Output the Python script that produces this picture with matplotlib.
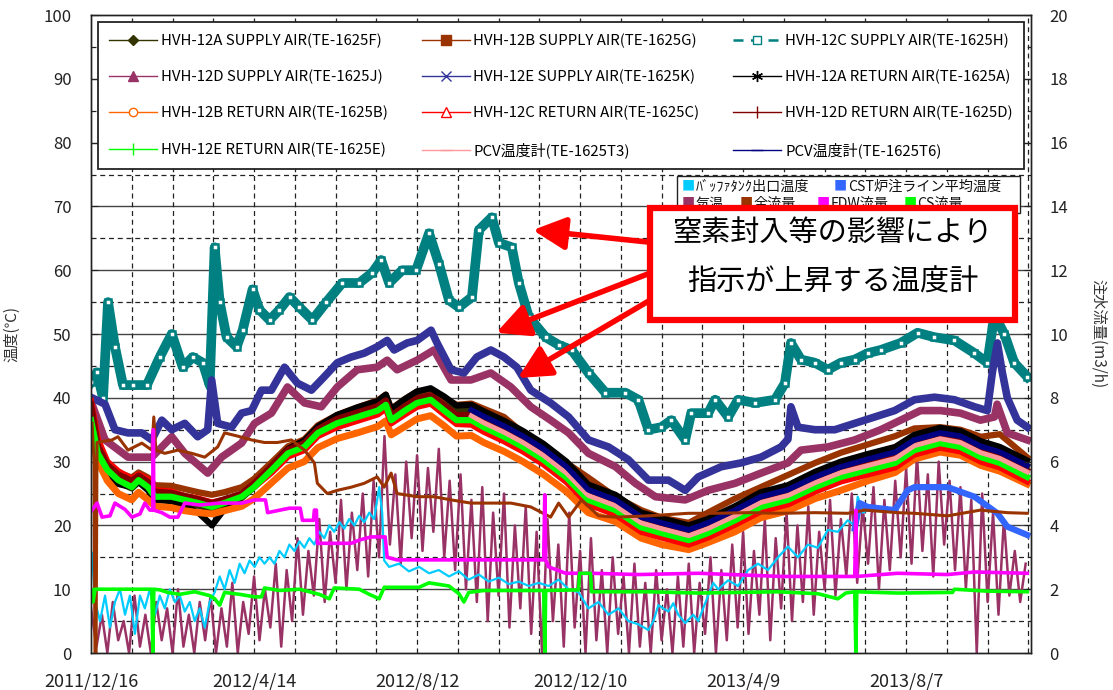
import datetime as dt
import numpy as np
import matplotlib
matplotlib.use("Agg")
import matplotlib.pyplot as plt
from matplotlib.lines import Line2D
from matplotlib.patches import Rectangle

plt.rcParams['font.family'] = ['Noto Sans CJK JP', 'DejaVu Sans']

start_date = dt.date(2011, 12, 16)
x_max = 692

# ---- main temperature band (days from 2011/12/16) ----
band_days = [0, 5, 12, 20, 30, 35, 42, 47, 59, 69, 79, 89, 98, 111, 120, 133, 145, 157, 167, 181,
             196, 211, 217, 221, 231, 240, 250, 260, 269, 280, 289, 304, 318, 333, 350, 366, 386, 405, 420, 440,
             454, 474, 493, 513, 533, 552, 572, 592, 606, 625, 640, 655, 669, 689]
sup_12a = [38.5, 31.0, 28.2, 26.8, 25.8, 26.8, 25.8, 24.3, 24.2, 23.6, 23.1, 22.5, 23.2, 24.3, 26.0, 28.9, 31.6, 32.8, 35.0, 36.7,
           37.8, 38.8, 39.8, 37.5, 39.0, 40.3, 40.8, 39.4, 38.0, 38.0, 37.0, 35.5, 33.9, 31.9, 29.1, 25.5, 23.9, 21.2, 20.3, 19.2,
           20.3, 22.3, 24.4, 25.5, 27.5, 29.1, 30.3, 31.4, 33.3, 34.4, 33.9, 32.3, 31.4, 29.3]
sup_12b = [38.0, 32.0, 29.5, 28.3, 27.5, 28.3, 27.5, 26.3, 26.2, 25.7, 25.2, 24.8, 25.2, 26.0, 27.3, 29.9, 32.4, 33.5, 35.7, 37.3,
           38.5, 39.6, 40.5, 38.3, 39.8, 41.0, 41.3, 40.0, 38.9, 39.1, 38.3, 37.0, 34.5, 32.5, 29.8, 27.5, 24.5, 22.4, 21.2, 20.4,
           22.0, 24.2, 26.0, 27.9, 29.8, 31.4, 32.7, 34.0, 35.2, 35.4, 35.0, 33.9, 34.3, 30.7]
ret_12a = [38.0, 30.5, 27.5, 26.5, 26.0, 26.8, 25.5, 24.0, 23.8, 23.0, 22.0, 20.0, 22.5, 24.5, 26.3, 29.3, 32.0, 33.3, 35.5, 37.3,
           38.5, 39.5, 40.5, 38.2, 39.8, 41.0, 41.5, 40.2, 38.8, 38.9, 37.9, 36.4, 34.8, 32.8, 30.0, 26.4, 24.8, 22.0, 21.1, 20.0,
           21.0, 23.0, 25.2, 26.3, 28.4, 30.0, 31.2, 32.3, 34.2, 35.3, 34.8, 33.2, 32.3, 30.2]
ret_12b = [37.0, 30.0, 27.0, 25.0, 24.0, 25.2, 24.0, 23.0, 22.8, 22.3, 22.0, 21.8, 22.3, 23.0, 24.2, 26.7, 29.0, 30.0, 32.2, 33.6,
           34.5, 35.5, 36.4, 34.2, 35.5, 36.7, 37.2, 35.6, 34.0, 34.1, 33.0, 31.6, 30.0, 28.0, 25.3, 22.0, 20.6, 18.0, 17.0, 16.2,
           17.3, 19.0, 21.2, 22.3, 24.2, 25.5, 27.0, 28.3, 30.4, 31.5, 31.0, 29.4, 28.5, 26.5]
ret_12c = [39.5, 33.5, 30.0, 28.5, 27.3, 28.0, 27.2, 25.5, 25.3, 24.6, 24.2, 23.6, 24.0, 24.9, 26.0, 28.3, 30.8, 31.8, 34.0, 35.4,
           36.4, 37.4, 38.3, 36.0, 37.4, 38.6, 39.1, 37.4, 35.9, 35.8, 34.7, 33.2, 31.6, 29.6, 26.8, 23.3, 21.7, 19.0, 18.1, 17.0,
           18.1, 20.1, 22.2, 23.3, 25.3, 26.9, 28.0, 29.1, 31.1, 32.2, 31.6, 30.0, 29.1, 26.9]
ret_12d = [39.0, 32.5, 29.5, 28.0, 27.0, 27.8, 26.8, 25.3, 25.1, 24.6, 24.1, 23.5, 24.1, 25.0, 26.6, 29.3, 31.9, 32.9, 35.1, 36.7,
           37.7, 38.7, 39.6, 37.2, 38.7, 39.9, 40.4, 38.8, 37.3, 37.3, 36.3, 34.8, 33.2, 31.2, 28.4, 24.9, 23.3, 20.6, 19.7, 18.6,
           19.7, 21.7, 23.8, 24.9, 26.9, 28.5, 29.6, 30.7, 32.7, 33.8, 33.2, 31.6, 30.7, 28.6]
ret_12e = [36.5, 31.3, 28.7, 27.1, 26.0, 27.1, 26.0, 24.5, 24.5, 24.0, 23.5, 22.9, 23.5, 24.5, 26.0, 28.7, 31.3, 32.3, 34.5, 36.0,
           37.0, 38.0, 38.9, 36.5, 38.0, 39.2, 39.7, 38.0, 36.5, 36.5, 35.4, 33.9, 32.3, 30.3, 27.5, 24.0, 22.4, 19.7, 18.8, 17.7,
           18.8, 20.8, 22.9, 24.0, 26.0, 27.6, 28.7, 29.8, 31.8, 32.9, 32.3, 30.7, 29.8, 27.6]

pcv_days = [280, 289, 304, 318, 333, 350, 366, 386, 405, 420, 440, 454, 474, 493, 513, 533, 552, 572, 592, 606,
            625, 640, 655, 669, 689]
pcv_t3 = [37.2, 36.1, 34.6, 33.0, 31.0, 28.2, 24.7, 23.1, 20.4, 19.5, 18.4, 19.5, 21.5, 23.6, 24.7, 26.7, 28.3, 29.4, 30.5, 32.5,
          33.6, 33.0, 31.4, 30.5, 28.4]
pcv_t6 = [38.1, 37.1, 35.6, 34.0, 32.0, 29.2, 25.6, 24.0, 21.3, 20.4, 19.3, 20.4, 22.4, 24.5, 25.6, 27.6, 29.2, 30.4, 31.5, 33.4,
          34.5, 34.0, 32.4, 31.5, 29.4]

# HVH-12C supply (teal squares)
teal_days = [0, 4.4, 8.8, 12.5, 17.6, 23.5, 30.8, 41.1, 50.6, 59.4, 67.5, 74.9, 82.2, 87.3, 91, 94.7, 99.8, 107.2, 111.6, 118.9,
             124, 131.4, 138.7, 146.1, 153.4, 162.9, 173.2, 184.9, 197.4, 207, 213.6, 219.4, 229, 239.3, 248.8, 256.1, 263.5,
             270.8, 280.4, 285.5, 295, 300.2, 309.7, 314.9, 322.2, 334.7, 344.2, 353.8, 366.2, 378.7, 393.4, 402.9, 410.3,
             419.8, 427.2, 437.4, 441.8, 454.3, 459.4, 469, 476.3, 488.8, 503.5, 510.8, 515.2, 522.6, 532.8, 542.4, 551.9,
             562.2, 571.7, 581.3, 596, 608.4, 620.9, 635.6, 650.3, 659.8, 665, 672.3, 679.6, 689.2]
sup_12c = [42.5, 44, 40, 55, 48, 42, 42, 42, 46.4, 50, 44.8, 46.4, 45.5, 42, 63.6, 55, 49.5, 48, 50.6, 57,
           53.8, 52.2, 53.8, 55.8, 54.2, 52.2, 55, 58, 58, 59.6, 61.6, 58, 60, 60, 65.8, 61, 55.3, 54.2, 55.8, 66.3,
           68.3, 64.3, 63.6, 58, 52.7, 49.5, 48.3, 47.5, 43.9, 40.8, 40.8, 39.7, 35, 35.4, 36.5, 33.4, 37.6, 37.6, 39.7, 37,
           39.7, 39.2, 39.7, 42.3, 48.6, 46, 45.5, 44.4, 45.5, 46, 47, 47.5, 48.6, 50.2, 49.5, 49, 47, 45.5, 53, 50,
           45.5, 43.3]

# HVH-12E supply (blue)
e_days = [0.7, 10.3, 17.6, 27.2, 37.4, 44.8, 52.1, 59.4, 69, 78.5, 85.9, 88.8, 93.2, 103.5, 110.8, 118.2, 125.5, 132.8,
          142.4, 151.9, 162.2, 171.7, 181.3, 191.6, 201.1, 210.6, 218, 223.1, 232.7, 240, 250.3, 254.7, 265, 274.5, 284,
          294.3, 303.9, 313.4, 323.7, 338.3, 351.6, 366.2, 380.9, 395.6, 410.3, 425, 437.4, 447, 463.9, 478.5, 493.2,
          507.9, 513, 515.2, 520.4, 532.8, 547.5, 562.2, 576.9, 591.6, 606.2, 620.9, 635.6, 650.3, 659.8, 663.5, 667.2,
          670.8, 674.5, 681.8, 689.2]
sup_12e = [40, 39, 35, 34.5, 34.5, 33.4, 36.5, 35, 36, 33.9, 35, 42.8, 36, 35.4, 37.6, 38, 41.2, 41.2, 44.8, 42.3,
           41.2, 43.3, 45.5, 46.4, 47, 48, 49, 47.5, 48.6, 49, 50.6, 48.6, 44.4, 43.9, 46.4, 47.5, 46.4, 44.8, 41.2, 39.2,
           37, 33.4, 32.3, 30.3, 27.1, 27.1, 25.5, 27.6, 29.2, 29.8, 30.7, 32.3, 33.5, 38.6, 35.4, 35, 35, 36, 37, 38,
           39.7, 40.1, 39.7, 38.6, 38, 44, 48.6, 44, 40, 36.5, 35.4]

# HVH-12D supply (purple)
d_days = [0.7, 10.3, 27.2, 44.8, 59.4, 69, 85.9, 96.1, 110.8, 120.4, 132.8, 144.6, 157.1, 169.5, 181.3, 196, 210.6, 218,
          225.3, 240, 252.5, 265, 279.6, 294.3, 309, 323.7, 338.3, 351.6, 366.2, 386.1, 400.7, 415.4, 437.4, 454.3, 474.1,
          493.2, 513, 522.6, 542.4, 562.2, 581.3, 596, 610.6, 625.3, 640, 654.7, 665, 667, 674.5, 689.2]
sup_12d = [39, 33.4, 30.7, 30.7, 33.9, 31.3, 28.2, 30.7, 32.9, 36, 37.6, 41.7, 39.2, 38.6, 41.7, 44.4, 44.8, 45.9, 44.4, 45.9,
           47.5, 42.8, 42.8, 43.9, 41.7, 38.6, 36.5, 34.5, 31.3, 29.2, 26.6, 24.5, 24, 25.5, 26.6, 28.2, 29.8, 31.8, 32.3, 33.4,
           35, 36.5, 38, 38, 37.6, 36.5, 37, 39, 34.5, 33.4]

# buffer tank outlet temperature (cyan)
buf_days = [0.7, 3, 6.6, 10.3, 13.9, 17.6, 21.3, 25, 28.6, 32.3, 36, 39.6, 43.3, 47, 50.6, 54.3, 58, 61.7, 65.3, 69,
            72.7, 76.3, 80, 83.7, 87.3, 91, 94.7, 98.3, 102, 105.7, 109.4, 113, 116.7, 120.4, 124, 127.7, 131.4, 135, 138.7,
            142.4, 146, 149.7, 153.4, 157, 160.7, 164.4, 168, 171.7, 175.4, 179, 182.8, 186.4, 190, 193.8, 197.4, 201, 204.8,
            208.4, 212.1, 214.3, 215.8, 219.4, 226.8, 234, 241.5, 248.8, 256, 263.5, 270.8, 278, 285.5, 292.8, 300.2, 307.5,
            314.9, 322.2, 329.5, 336.9, 344.2, 351.6, 358.9, 366.2, 373.6, 380.9, 388.3, 395.6, 402.9, 410.3, 414, 417.6,
            425, 428.6, 432.3, 437.4, 443.3, 447, 450.6, 454.3, 458, 461.7, 469, 476.3, 483.7, 491, 498.3, 505.7, 513,
            520.4, 527.7, 535, 542.4, 549.7, 557, 562.2, 564.4, 568.1, 576.9]
buf_temp = [15.7, 8, 5, 9, 4, 8, 10, 6, 9, 3, 9, 7, 10, 6, 9, 7, 10, 8, 9, 6.5,
            8, 5, 7, 4, 8, 9.5, 12, 10, 13, 11, 14, 12.5, 14.5, 13.5, 15, 14, 15, 14, 16, 15,
            17, 16, 17.5, 16.5, 18, 17, 19, 18, 20, 19, 20.5, 19.5, 21, 20, 21.5, 20.5, 22, 21, 26, 22,
            14.5, 13.5, 14, 12.8, 13.5, 12.5, 13, 12, 12.8, 11.5, 12.3, 11.2, 11.8, 10.8, 11.2, 10.5, 11, 10.5, 11.5, 10,
            9.5, 7, 8, 6, 7, 5, 4.5, 3.6, 5, 7.5, 6.5, 7.8, 6, 4.7, 6, 5, 7, 9, 11, 10,
            11.4, 10.5, 13, 14, 13, 15, 16.7, 15, 17, 16.5, 19.3, 19, 20.8, 20, 24.5, 22, 23]

# CST injection line average temperature
cst_days = [562.2, 565.8, 571.7, 591.6, 601.1, 606.2, 630.5, 650.3, 667.2, 674.5, 689.2]
cst_temp = [19.5, 23.5, 22.9, 22.4, 25.5, 26, 26, 24.5, 21.9, 19.8, 18.5]

# air temperature, one reading every 4 days
air_days = np.arange(0, 689, 4)
air_temp = [7, 1, 6, 0, 8, 2, 5, 0, 9, 1, 6, 0, 8, 2, 7, 0, 10, 1, 6, 0,
            8, 2, 9, 0, 7, 1, 11, 0, 8, 3, 12, 2, 10, 4, 14, 1, 13, 5, 18, 6,
            16, 9, 21, 8, 19, 11, 24, 10, 22, 13, 25, 12, 27, 15, 34, 17, 28, 14, 30, 18,
            31, 16, 29, 19, 32, 15, 27, 13, 28, 10, 24, 8, 26, 5, 22, 9, 25, 4, 20, 7,
            23, 3, 19, 0, 21, 5, 17, 1, 22, 4, 16, 0, 18, 2, 13, 0, 15, 3, 12, 0,
            14, 1, 11, 0, 13, 2, 10, 0, 12, 1, 14, 0, 11, 3, 15, 0, 13, 2, 17, 4,
            19, 3, 16, 6, 21, 2, 18, 7, 22, 5, 20, 8, 23, 6, 19, 10, 24, 9, 21, 12,
            25, 11, 23, 14, 26, 10, 24, 13, 27, 15, 29, 14, 31, 16, 28, 12, 30, 17, 27, 13,
            26, 10, 24, 0, 25, 8, 22, 6, 21, 9, 16, 8, 14]

# flows (m3/h, right axis)
fdw_days = [0.7, 4.4, 8.1, 13.9, 17.6, 25, 30.1, 36, 39.6, 43.3, 45.5, 45.9, 46.2, 52.1, 58, 63.9, 69, 80, 94.7, 110.8,
            120.4, 128.4, 130, 146, 154, 155.6, 163.7, 164.4, 165.9, 166.6, 191.6, 197.4, 206.2, 216.5, 218, 225.3, 265,
            289.2, 333.2, 334, 334.7, 336.9, 349.4, 368.4, 403, 447, 508, 562.2, 563, 563.7, 593.8, 630.5, 650.3, 689.2]
fdw_flow = [4.48, 4.70, 4.26, 4.30, 4.70, 4.50, 4.26, 4.36, 4.70, 4.48, 4.48, 7.00, 4.48, 4.40, 4.26, 4.26, 4.70, 4.64,
            4.70, 4.70, 4.80, 4.80, 4.40, 4.54, 4.54, 4.16, 4.16, 4.48, 4.48, 3.44, 3.44, 3.54, 3.64, 3.64, 3.00, 2.92,
            2.92, 2.92, 2.92, 4.96, 2.92, 2.70, 2.50, 2.50, 2.46, 2.50, 2.40, 2.40, 4.48, 2.40, 2.50, 2.46, 2.54, 2.50]

cs_days = [0.7, 1.5, 3, 43.3, 44.8, 45.5, 46.2, 50.6, 56.5, 65.3, 76.3, 87.3, 91, 94.7, 98.3, 109.4, 120.4, 125.5,
           127.7, 138.7, 153.4, 168, 175.4, 179, 197.4, 204.8, 212.1, 215.8, 241.5, 248.8, 263.5, 270.8, 274.5, 278,
           289.2, 322.2, 333.2, 334, 334.7, 358.9, 359.6, 367.7, 368.4, 410.3, 447, 505.7, 535, 549.7, 555.6, 562.2,
           563, 563.7, 593.8, 634.1, 635.6, 659.8, 689.2]
cs_flow = [1.98, 1.60, 2.00, 2.00, 2.00, 0.00, 2.00, 1.98, 1.90, 1.84, 1.92, 1.80, 1.70, 1.50, 1.90, 1.84, 1.76, 1.76,
           2.04, 1.96, 2.00, 1.84, 1.70, 2.04, 2.00, 1.84, 1.70, 2.06, 2.06, 2.20, 2.10, 1.86, 1.60, 1.90, 1.96, 1.96,
           1.96, 0.00, 1.96, 1.98, 2.50, 2.50, 1.92, 1.92, 1.88, 1.92, 1.86, 1.70, 1.88, 1.92, 0.00, 1.92, 1.88, 1.90,
           2.00, 1.94, 1.92]

total_days = [0.7, 2.2, 2.9, 3.7, 4.4, 15.4, 19.8, 27.2, 37.4, 44.8, 46.2, 47.7, 54.3, 63.9, 74.1, 83.7, 93.2, 98.3,
              107.9, 118.2, 127.7, 137.2, 147.5, 157.1, 164.4, 166.6, 173.9, 181.3, 191.6, 201.1, 210.6, 215.8, 220.9,
              225.3, 240, 252.5, 265, 279.6, 294.3, 309, 323.7, 338.3, 344.2, 351.6, 361.1, 373.6, 386.1, 410.3, 439.6,
              459.4, 483.7, 507.9, 532.8, 557, 569.5, 593.8, 606.2, 630.5, 654.7, 674.5, 689.2]
total_flow = [7.2, 6.0, 0.0, 0.0, 6.6, 6.68, 6.78, 6.36, 6.58, 6.36, 7.4, 6.36, 6.26, 6.36, 6.26, 6.14, 6.46, 6.9, 6.8,
              6.68, 6.6, 6.6, 6.68, 6.36, 5.96, 5.32, 5.0, 5.1, 5.2, 5.32, 5.52, 5.2, 5.64, 5.0, 4.9, 4.9, 4.8, 4.7, 4.7,
              4.7, 4.58, 4.26, 4.7, 4.26, 4.8, 4.3, 4.26, 4.3, 4.38, 4.38, 4.4, 4.38, 4.4, 4.38, 4.48, 4.4, 4.38, 4.3,
              4.48, 4.4, 4.38]

c_olive, c_brown, c_teal = '#333300', '#993300', '#008080'
c_plum, c_blue, c_black = '#993366', '#333399', '#000000'
c_orange, c_red, c_dred = '#FF6600', '#FF0000', '#800000'
c_green, c_salmon, c_navy = '#00FF00', '#FF9999', '#000080'

fig = plt.figure(figsize=(11.13, 6.9), dpi=100)
ax = fig.add_axes([0.0818, 0.0536, 0.8446, 0.9246])
ax2 = ax.twinx()

# grid
for v in range(10, 100, 10):
    ax.axhline(v, color='#444444', lw=1.0, zorder=0.5)
for v in range(5, 100, 10):
    ax.axhline(v, color='#222222', lw=0.9, ls=(0, (4, 3)), zorder=0.5)
for d in range(30, 691, 30):
    ax.axvline(d, color='#222222', lw=0.9, ls=(0, (4, 3)), zorder=0.5)

# lower group
ax.plot(air_days, air_temp, color=c_plum, lw=1.8, zorder=1.8)

# temperature bands
ax.plot(band_days, sup_12a, color=c_olive, lw=4.5)
ax.plot(band_days, sup_12b, color=c_brown, lw=4.5)
ax.plot(teal_days, sup_12c, color=c_teal, lw=7, marker='s', ms=5, mfc='white', mec=c_teal, mew=1.8)
ax.plot(d_days, sup_12d, color=c_plum, lw=5.5)
ax.plot(e_days, sup_12e, color=c_blue, lw=5.5)
ax.plot(band_days, ret_12a, color=c_black, lw=4.5)
ax.plot(band_days, ret_12b, color=c_orange, lw=5)
ax.plot(band_days, ret_12c, color=c_red, lw=4.5)
ax.plot(band_days, ret_12d, color=c_dred, lw=4.5)
ax.plot(band_days, ret_12e, color=c_green, lw=4.5)
ax.plot(pcv_days, pcv_t3, color=c_salmon, lw=3.5)
ax.plot(pcv_days, pcv_t6, color=c_navy, lw=4)

ax.plot(buf_days, buf_temp, color='#00CCFF', lw=1.6)
ax.plot(cst_days, cst_temp, color='#3366FF', lw=4.5)

ax2.plot(total_days, total_flow, color=c_brown, lw=2.2)
ax2.plot(fdw_days, fdw_flow, color='#FF00FF', lw=2.6)
ax2.plot(cs_days, cs_flow, color=c_green, lw=2.6)

# axes
ax.set_xlim(0, x_max)
ax.set_ylim(0, 100)
ax2.set_ylim(0, 20)
ax.set_yticks(range(0, 101, 10))
ax2.set_yticks(range(0, 21, 2))

tick_days = list(range(0, 691, 30))
tick_labels = []
for d in tick_days:
    if d % 120 == 0:
        t = start_date + dt.timedelta(days=d)
        tick_labels.append(f"{t.year}/{t.month}/{t.day}")
    else:
        tick_labels.append("")
ax.set_xticks(tick_days)
ax.set_xticklabels(tick_labels)

ax.tick_params(axis='x', direction='in', length=0, pad=14, labelsize=13, colors='#222222')
ax.tick_params(axis='y', direction='in', length=5, pad=14, labelsize=12, colors='#222222')
ax2.tick_params(axis='y', direction='in', length=5, pad=13, labelsize=12, colors='#222222')
for sp in list(ax.spines.values()) + list(ax2.spines.values()):
    sp.set_linewidth(1.0)
    sp.set_color('#222222')

ax.set_ylabel('温度(℃)', fontsize=11, color='#333333')
ax.yaxis.set_label_coords(-0.075, 0.5)
ax2.set_ylabel('注水流量(m3/h)', fontsize=11, color='#333333', rotation=270, va='bottom')
ax2.yaxis.set_label_coords(1.062, 0.5)

# main legend (row order as in the chart)
legend_items = [
    ('HVH-12A SUPPLY AIR(TE-1625F)', dict(color=c_olive, marker='D', ms=5)),
    ('HVH-12B SUPPLY AIR(TE-1625G)', dict(color=c_brown, marker='s', ms=7)),
    ('HVH-12C SUPPLY AIR(TE-1625H)', dict(color=c_teal, ls=(0, (4, 3)), lw=1.8, marker='s', ms=6, mfc='white')),
    ('HVH-12D SUPPLY AIR(TE-1625J)', dict(color=c_plum, marker='^', ms=7)),
    ('HVH-12E SUPPLY AIR(TE-1625K)', dict(color=c_blue, marker='x', ms=7)),
    ('HVH-12A RETURN AIR(TE-1625A)', dict(color=c_black, marker=(6, 2, 0), ms=8)),
    ('HVH-12B RETURN AIR(TE-1625B)', dict(color=c_orange, marker='o', ms=6, mfc='white')),
    ('HVH-12C RETURN AIR(TE-1625C)', dict(color=c_red, marker='^', ms=7, mfc='white')),
    ('HVH-12D RETURN AIR(TE-1625D)', dict(color=c_dred, marker='|', ms=8)),
    ('HVH-12E RETURN AIR(TE-1625E)', dict(color=c_green, marker='|', ms=8)),
    ('PCV温度計(TE-1625T3)', dict(color=c_salmon, marker='_', ms=8)),
    ('PCV温度計(TE-1625T6)', dict(color=c_navy, marker='_', ms=8)),
]
handles = []
labels = []
for name, kw in legend_items:
    kw = dict(kw)
    kw.setdefault('lw', 1.0)
    handles.append(Line2D([], [], **kw))
    labels.append(name)
order = [r * 3 + c for c in range(3) for r in range(4)]
leg = ax2.legend([handles[i] for i in order], [labels[i] for i in order], ncol=3,
                 loc='upper left', bbox_to_anchor=(0.0074, 0.757, 0.985, 0.232), mode='expand',
                 fontsize=10.8, fancybox=False, framealpha=1, edgecolor='#222222',
                 borderpad=0.75, labelspacing=1.45, handlelength=3.2, handletextpad=0.25,
                 borderaxespad=0)
leg.get_frame().set_linewidth(1.3)
leg.set_zorder(5)

# second legend (manual)
leg2_names = ['ﾊﾞｯﾌｧﾀﾝｸ出口温度', 'CST炉注ライン平均温度', '気温', '全流量', 'FDW流量', 'CS流量']
leg2_colors = ['#00CCFF', '#3366FF', c_plum, c_brown, '#FF00FF', c_green]
leg2_x = [0.628, 0.790, 0.628, 0.690, 0.772, 0.864]
leg2_y = [0.731, 0.731, 0.704, 0.704, 0.704, 0.704]
ax2.add_patch(Rectangle((0.623, 0.69), 0.365, 0.057, transform=ax2.transAxes,
                        facecolor='white', edgecolor='#222222', lw=1.0, zorder=6))
for name, col, lx, ly in zip(leg2_names, leg2_colors, leg2_x, leg2_y):
    ax2.text(lx, ly, '■', color=col, fontsize=9.5, transform=ax2.transAxes, va='center', zorder=7)
    ax2.text(lx + 0.0150, ly, name, color='#111111', fontsize=10.2, transform=ax2.transAxes,
             va='center', zorder=7)

# annotation
arrow_tips = [(0.470, 0.663), (0.431, 0.502), (0.454, 0.431)]
arrow_starts = [(0.62, 0.640), (0.62, 0.610), (0.62, 0.575)]
for tip, st in zip(arrow_tips, arrow_starts):
    ax2.annotate('', xy=tip, xytext=st, xycoords='axes fraction', textcoords='axes fraction',
                 arrowprops=dict(arrowstyle='-|>,head_length=0.9,head_width=0.45', color='#FF0000',
                                 lw=4, shrinkA=0, shrinkB=0, mutation_scale=22),
                 zorder=7)
ax2.add_patch(Rectangle((0.595, 0.522), 0.388, 0.1755, transform=ax2.transAxes,
                        facecolor='white', edgecolor='#FF0000', lw=4.5, zorder=8))
ax2.text(0.789, 0.658, '窒素封入等の影響により', fontsize=21, ha='center', va='center',
         transform=ax2.transAxes, zorder=9)
ax2.text(0.789, 0.580, '指示が上昇する温度計', fontsize=21, ha='center', va='center',
         transform=ax2.transAxes, zorder=9)

fig.savefig('out.png', dpi=100)
